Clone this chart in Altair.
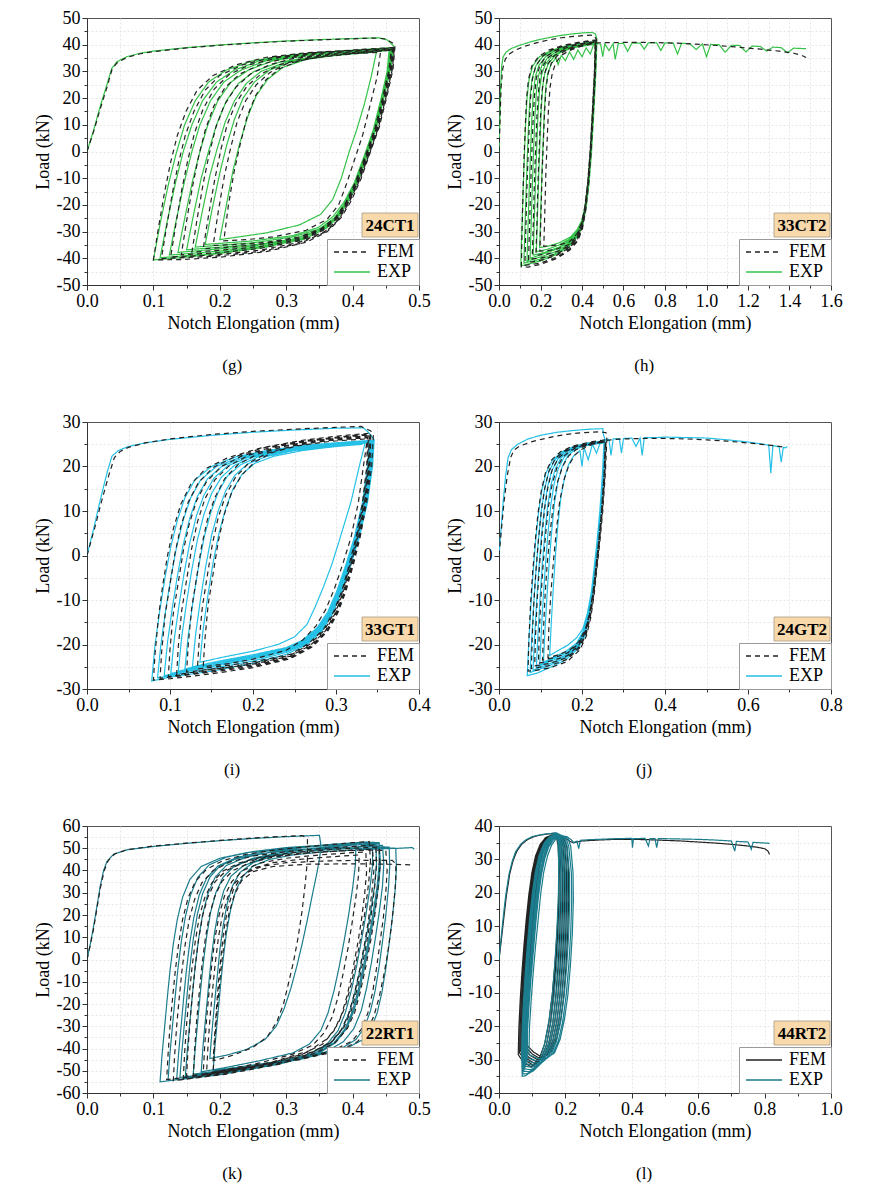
import altair as alt
import pandas as pd

FONT = "Liberation Serif"

# ---------------- data (Notch elongation mm, Load kN) ----------------
G_EXP = [
(0,0),(0.01,8),(0.02,17),(0.03,25),(0.037,31),(0.045,33.6),(0.06,35.5),(0.08,36.8),(0.1,37.6),(0.15,38.9),(0.2,39.9),(0.25,40.7),(0.3,41.4),(0.35,41.9),(0.4,42.3),(0.44,42.6),(0.452,41.8),(0.462,39.5),
(0.458,32),(0.449,22),(0.437,10),(0.424,0),(0.41,-10),(0.395,-18),(0.38,-24),(0.362,-28.5),(0.33,-32.5),(0.27,-35.8),(0.2,-38.2),(0.14,-39.8),(0.1,-40.6),
(0.111,-26),(0.122,-13),(0.134,-1),(0.147,10),(0.163,19),(0.183,26),(0.21,30.5),(0.25,34),(0.31,36.3),(0.38,37.6),(0.46,38.9),
(0.457,31),(0.448,21),(0.436,9),(0.422,-1),(0.407,-11),(0.392,-19),(0.377,-25),(0.358,-29),(0.325,-33),(0.26,-36),(0.19,-38.2),(0.11,-39.8),
(0.121,-26),(0.133,-12),(0.145,0),(0.158,10),(0.174,19),(0.195,26),(0.222,30.5),(0.26,34),(0.32,36.3),(0.39,37.6),(0.459,38.7),
(0.456,31),(0.447,21),(0.435,9),(0.421,-1),(0.406,-11),(0.391,-19),(0.376,-24.5),(0.356,-28.8),(0.32,-32.8),(0.26,-35.6),(0.2,-37.3),(0.124,-38.8),
(0.135,-25),(0.147,-11),(0.158,0),(0.17,10),(0.186,19),(0.206,26),(0.232,30.5),(0.27,34),(0.33,36.2),(0.4,37.5),(0.458,38.5),
(0.455,30),(0.446,20),(0.434,8),(0.42,-2),(0.405,-12),(0.39,-19.5),(0.374,-25),(0.35,-29.5),(0.31,-33),(0.25,-35.4),(0.137,-37.8),
(0.148,-24),(0.159,-11),(0.17,0),(0.182,10),(0.197,19),(0.217,26),(0.243,30.5),(0.28,34),(0.34,36.2),(0.4,37.3),(0.457,38.3),
(0.454,30),(0.445,20),(0.433,8),(0.419,-2),(0.404,-12),(0.389,-19.5),(0.373,-25),(0.35,-29.5),(0.31,-32.8),(0.26,-34.7),(0.15,-36.8),
(0.161,-23),(0.172,-10),(0.183,0),(0.195,10),(0.21,19),(0.228,25.5),(0.252,30),(0.29,33.5),(0.35,35.8),(0.41,37),(0.456,38.1),
(0.453,30),(0.444,20),(0.432,8),(0.418,-2),(0.403,-12),(0.388,-19.5),(0.372,-25),(0.35,-29),(0.31,-32),(0.25,-34.2),(0.163,-35.8),
(0.174,-22),(0.185,-9),(0.196,1),(0.208,11),(0.222,19),(0.24,25.5),(0.262,30),(0.3,33.5),(0.36,35.8),(0.42,36.9),(0.455,37.9),
(0.452,30),(0.443,20),(0.431,8),(0.417,-2),(0.402,-12),(0.387,-19),(0.37,-24.5),(0.348,-28.5),(0.31,-31.5),(0.25,-33.5),(0.178,-34.8),
(0.189,-21),(0.2,-8),(0.21,2),(0.222,12),(0.235,20),(0.252,26),(0.275,30.5),(0.31,33.8),(0.36,35.6),(0.41,36.8),(0.436,37.4),
(0.428,28),(0.418,18),(0.406,8),(0.395,0),(0.383,-10),(0.37,-18),(0.352,-23.5),(0.32,-27.5),(0.27,-30.5),(0.2,-33),
(0.21,-20),(0.22,-7),(0.23,3),(0.242,13),(0.255,21),(0.272,27),(0.295,31.5),(0.33,34.5),(0.39,36.5),(0.45,37.8),
]
G_FEM = [
(0,0),(0.01,7.5),(0.02,16),(0.03,24),(0.038,31),(0.046,33.4),(0.06,35.2),(0.08,36.6),(0.1,37.4),(0.15,38.8),(0.2,39.8),(0.25,40.6),(0.3,41.3),(0.35,41.8),(0.4,42.2),(0.43,42.5),(0.45,42.2),(0.464,40),
(0.461,31),(0.452,21),(0.44,9),(0.427,0),(0.413,-10),(0.398,-18.5),(0.382,-25),(0.362,-30),(0.33,-34),(0.27,-37.5),(0.2,-39.6),(0.14,-40.5),(0.1,-40.6),
(0.108,-28),(0.117,-15),(0.126,-4),(0.136,6),(0.149,15),(0.166,23),(0.19,28.5),(0.225,32.5),(0.27,35.3),(0.33,37),(0.4,38),(0.463,39),
(0.46,31),(0.451,21),(0.439,9),(0.425,-1),(0.41,-11),(0.395,-19),(0.379,-25.5),(0.36,-30),(0.32,-34.5),(0.26,-37.5),(0.19,-39.3),(0.112,-40.1),
(0.12,-28),(0.129,-15),(0.138,-4),(0.148,6),(0.161,15),(0.178,23),(0.2,28.5),(0.235,32.5),(0.28,35.3),(0.34,37),(0.41,38),(0.462,38.8),
(0.459,31),(0.45,21),(0.438,9),(0.424,-1),(0.409,-11),(0.394,-19),(0.378,-25.5),(0.358,-30),(0.32,-34),(0.26,-37),(0.19,-38.8),(0.126,-39.5),
(0.134,-27),(0.143,-14),(0.152,-3),(0.162,7),(0.175,16),(0.192,23.5),(0.214,28.8),(0.245,32.5),(0.29,35.2),(0.35,36.9),(0.42,37.9),(0.461,38.6),
(0.458,31),(0.449,21),(0.437,9),(0.423,-1),(0.408,-11),(0.393,-19),(0.377,-25),(0.356,-29.5),(0.32,-33.5),(0.26,-36.3),(0.2,-37.9),(0.142,-38.7),
(0.15,-26),(0.159,-13),(0.168,-2),(0.178,8),(0.191,17),(0.208,24),(0.23,29),(0.26,32.5),(0.3,35),(0.36,36.7),(0.42,37.7),(0.46,38.4),
(0.457,31),(0.448,21),(0.436,9),(0.422,-1),(0.407,-11),(0.392,-19),(0.376,-25),(0.355,-29.3),(0.32,-33),(0.26,-35.6),(0.2,-37),(0.158,-37.7),
(0.166,-25),(0.175,-12),(0.184,-1),(0.194,9),(0.207,17.5),(0.224,24),(0.246,29),(0.275,32.5),(0.31,34.8),(0.37,36.5),(0.43,37.6),(0.459,38.2),
(0.456,31),(0.447,21),(0.435,9),(0.421,-1),(0.406,-11),(0.391,-19),(0.375,-25),(0.354,-29),(0.32,-32.5),(0.26,-34.8),(0.21,-35.9),(0.175,-36.4),
(0.183,-24),(0.192,-11),(0.201,0),(0.211,10),(0.224,18),(0.241,24.5),(0.262,29),(0.29,32.5),(0.325,34.8),(0.38,36.4),(0.43,37.3),(0.458,38),
(0.455,31),(0.446,21),(0.434,9),(0.42,-1),(0.405,-11),(0.39,-19),(0.374,-24.8),(0.353,-28.8),(0.32,-32),(0.27,-34),(0.22,-34.9),(0.19,-35.2),
(0.198,-22),(0.207,-9),(0.216,1),(0.226,11),(0.239,19),(0.255,25),(0.275,29.5),(0.3,32.8),(0.34,35),(0.4,36.6),(0.442,37.2),
(0.437,28),(0.427,18),(0.415,6),(0.403,-3),(0.391,-12),(0.379,-20),(0.361,-25.5),(0.33,-29.5),(0.28,-32),(0.24,-33),(0.206,-33.5),
(0.213,-20),(0.222,-7),(0.231,3),(0.241,13),(0.254,21),(0.27,27),(0.29,31),(0.32,34),(0.37,36.2),(0.43,37.5),(0.457,37.9),
]

H_EXP = [
(0,0),(0.004,12),(0.008,24),(0.013,32),(0.02,35.5),(0.035,37.3),(0.06,38.6),(0.1,39.8),(0.15,41),(0.2,42),(0.25,42.8),(0.3,43.5),(0.35,44),(0.4,44.4),(0.45,44.6),(0.465,44),(0.472,42),
(0.467,30),(0.457,15),(0.446,0),(0.434,-12),(0.42,-21),(0.404,-27.5),(0.382,-31.5),(0.345,-35),(0.28,-38.5),(0.2,-41),(0.14,-42.2),(0.105,-42.8),
(0.11,-30),(0.116,-15),(0.122,-2),(0.128,10),(0.135,20),(0.145,27),(0.162,32),(0.195,35.5),(0.25,37.8),(0.32,39.5),(0.4,40.5),(0.47,41.3),
(0.466,30),(0.456,15),(0.445,0),(0.433,-12),(0.419,-21),(0.403,-27),(0.38,-31),(0.345,-34.5),(0.28,-38),(0.2,-40.3),(0.12,-41.8),
(0.125,-29),(0.131,-14),(0.137,-1),(0.143,11),(0.15,21),(0.16,27.5),(0.177,32),(0.21,35.5),(0.26,37.8),(0.33,39.4),(0.41,40.4),(0.469,41.1),
(0.465,30),(0.455,15),(0.444,0),(0.432,-12),(0.418,-21),(0.402,-27),(0.38,-30.8),(0.345,-34),(0.28,-37.3),(0.2,-39.5),(0.135,-41),
(0.14,-28),(0.146,-13),(0.152,0),(0.158,12),(0.165,21.5),(0.175,28),(0.192,32.2),(0.225,35.5),(0.27,37.7),(0.34,39.3),(0.42,40.3),(0.468,40.9),
(0.464,30),(0.454,15),(0.443,0),(0.431,-12),(0.417,-21),(0.401,-26.8),(0.38,-30.5),(0.345,-33.5),(0.28,-36.5),(0.2,-38.7),(0.15,-40),
(0.155,-27),(0.161,-12),(0.167,1),(0.173,13),(0.18,22),(0.19,28.3),(0.207,32.3),(0.238,35.4),(0.28,37.5),(0.35,39.2),(0.43,40.2),(0.467,40.7),
(0.463,30),(0.453,15),(0.442,0),(0.43,-12),(0.416,-21),(0.4,-26.5),(0.38,-30),(0.345,-33),(0.29,-35.8),(0.22,-37.8),(0.165,-38.8),
(0.17,-26),(0.176,-11),(0.182,2),(0.188,14),(0.195,23),(0.205,28.7),(0.222,32.5),(0.252,35.4),(0.295,37.5),(0.36,39.1),(0.43,40),(0.466,40.5),
(0.462,30),(0.452,15),(0.441,0),(0.429,-12),(0.415,-21),(0.399,-26.3),(0.378,-29.6),(0.345,-32.5),(0.29,-35),(0.23,-36.7),(0.18,-37.5),
(0.185,-25),(0.191,-10),(0.197,3),(0.203,15),(0.21,24),(0.22,29),(0.237,32.8),(0.265,35.4),(0.3,37.3),(0.36,38.9),(0.43,39.8),(0.465,40.3),
(0.461,30),(0.451,15),(0.44,0),(0.428,-12),(0.414,-21),(0.398,-26),(0.377,-29.2),(0.345,-32),(0.29,-34.2),(0.24,-35.4),(0.196,-36),
(0.201,-23),(0.207,-8),(0.213,4),(0.219,16),(0.226,24.5),(0.236,29.5),(0.253,33),(0.275,35),(0.285,32.5),(0.3,36),(0.32,34),(0.34,37.3),(0.36,34.5),(0.38,38),(0.4,35.5),(0.42,38.8),(0.44,36.5),(0.455,39.8),(0.47,40.5),
(0.49,40.2),(0.5,35.5),(0.51,40.3),(0.53,37.8),(0.55,40.4),(0.56,34.5),(0.575,40.4),(0.6,40.5),(0.62,37.5),(0.64,40.6),(0.68,40.6),(0.7,38.3),(0.72,40.7),(0.76,40.7),(0.78,37.8),(0.8,40.7),(0.84,40.6),(0.86,36.5),(0.88,40.5),(0.92,40.4),(0.95,38.2),(0.98,40.3),(1.0,35.5),(1.02,40.1),(1.06,40),(1.09,37.2),(1.12,39.8),(1.16,39.7),(1.19,37.3),(1.22,39.5),(1.26,39.3),(1.29,37.6),(1.32,39.1),(1.36,38.9),(1.39,37),(1.42,38.7),(1.45,38.6),(1.48,38.5),
]
H_FEM = [
(0,0),(0.005,12),(0.01,24),(0.018,31),(0.03,34.5),(0.05,36.5),(0.08,38),(0.12,39.3),(0.18,40.7),(0.24,41.8),(0.3,42.6),(0.36,43.1),(0.42,43.5),(0.455,43.6),(0.47,42),
(0.465,30),(0.455,15),(0.444,0),(0.432,-12),(0.418,-22),(0.402,-29),(0.38,-33.5),(0.34,-37),(0.28,-40),(0.2,-42.3),(0.14,-43.3),(0.108,-43.2),
(0.111,-30),(0.116,-15),(0.121,-2),(0.127,10),(0.133,20),(0.142,27),(0.158,32),(0.19,35.5),(0.24,38),(0.31,39.8),(0.39,41),(0.468,41.8),
(0.464,30),(0.454,15),(0.443,0),(0.431,-12),(0.417,-22),(0.401,-28.5),(0.38,-33),(0.34,-36.5),(0.28,-39.5),(0.2,-41.8),(0.125,-42.6),
(0.129,-30),(0.134,-15),(0.14,-2),(0.146,10),(0.152,20),(0.161,27),(0.177,32),(0.207,35.5),(0.255,38),(0.32,39.7),(0.4,40.8),(0.467,41.5),
(0.463,30),(0.453,15),(0.442,0),(0.43,-12),(0.416,-22),(0.4,-28.5),(0.378,-32.8),(0.34,-36),(0.28,-38.8),(0.2,-40.8),(0.142,-41.5),
(0.147,-29),(0.152,-14),(0.158,-1),(0.164,11),(0.171,21),(0.18,27.5),(0.196,32),(0.225,35.5),(0.27,37.8),(0.33,39.5),(0.41,40.6),(0.466,41.2),
(0.462,30),(0.452,15),(0.441,0),(0.429,-12),(0.415,-22),(0.399,-28.3),(0.378,-32.3),(0.34,-35.8),(0.28,-38.3),(0.2,-39.9),(0.16,-40.2),
(0.165,-28),(0.17,-13),(0.176,0),(0.182,12),(0.189,21.5),(0.198,28),(0.214,32.3),(0.242,35.5),(0.285,37.7),(0.345,39.4),(0.42,40.4),(0.465,41),
(0.461,30),(0.451,15),(0.44,0),(0.428,-12),(0.414,-22),(0.398,-28),(0.377,-32),(0.34,-35.3),(0.28,-37.5),(0.22,-38.6),(0.178,-38.8),
(0.183,-26),(0.188,-11),(0.194,1),(0.2,13),(0.207,22),(0.217,28.5),(0.233,32.5),(0.26,35.5),(0.3,37.6),(0.36,39.3),(0.43,40.3),(0.464,40.8),
(0.46,30),(0.45,15),(0.439,0),(0.427,-12),(0.413,-21.5),(0.397,-27.6),(0.376,-31.5),(0.34,-34.8),(0.28,-36.5),(0.23,-37.2),(0.197,-37.3),
(0.202,-24),(0.207,-10),(0.213,2),(0.219,14),(0.226,23),(0.236,29),(0.252,33),(0.28,35.8),(0.32,37.7),(0.375,39.2),(0.44,40.3),(0.463,40.6),
(0.46,30),(0.45,15),(0.439,0),(0.427,-12),(0.413,-21),(0.397,-27),(0.376,-30.8),(0.34,-33.8),(0.29,-35),(0.216,-35.5),
(0.221,-22),(0.226,-8),(0.232,4),(0.238,15),(0.246,24),(0.257,29.5),(0.274,33.3),(0.3,36),(0.34,37.8),(0.39,39.3),(0.44,40.2),(0.47,40.7),
(0.55,40.8),(0.65,40.9),(0.75,40.8),(0.85,40.6),(0.95,40.2),(1.05,39.7),(1.15,39.1),(1.25,38.4),(1.35,37.6),(1.42,36.8),(1.46,36),(1.48,35.2),
]

I_EXP = [
(0,0),(0.008,6),(0.016,12.5),(0.024,18.5),(0.03,22.3),(0.038,23.6),(0.05,24.5),(0.07,25.3),(0.1,26.1),(0.15,27),(0.2,27.7),(0.25,28.2),(0.3,28.6),(0.333,28.7),(0.34,27.5),(0.346,26),
(0.344,20),(0.338,12),(0.328,4),(0.318,-2),(0.307,-8),(0.296,-13),(0.283,-17),(0.265,-20),(0.24,-22.2),(0.2,-24.2),(0.15,-26),(0.1,-27.3),(0.078,-28.2),
(0.082,-20),(0.088,-12),(0.094,-5),(0.101,2),(0.109,8),(0.118,13),(0.13,17),(0.15,20),(0.18,22.2),(0.22,23.7),(0.27,24.9),(0.32,25.6),(0.345,25.9),
(0.343,20),(0.337,12),(0.327,4),(0.317,-2),(0.306,-8),(0.295,-13),(0.282,-17),(0.264,-19.8),(0.24,-21.8),(0.2,-23.7),(0.15,-25.4),(0.085,-27.5),
(0.089,-20),(0.095,-12),(0.101,-5),(0.108,2),(0.116,8),(0.125,13),(0.137,17),(0.156,20),(0.185,22.1),(0.225,23.6),(0.275,24.8),(0.32,25.5),(0.344,25.8),
(0.342,20),(0.336,12),(0.326,4),(0.316,-2),(0.305,-8),(0.294,-13),(0.281,-16.8),(0.263,-19.6),(0.24,-21.5),(0.2,-23.3),(0.15,-25),(0.093,-27),
(0.097,-19.5),(0.103,-11.5),(0.109,-4.5),(0.116,2.5),(0.124,8.5),(0.133,13.3),(0.145,17.2),(0.163,20.1),(0.19,22.1),(0.23,23.6),(0.28,24.7),(0.343,25.7),
(0.341,20),(0.335,12),(0.325,4),(0.315,-2),(0.304,-8),(0.293,-13),(0.28,-16.7),(0.262,-19.5),(0.24,-21.3),(0.2,-23),(0.15,-24.7),(0.101,-26.5),
(0.105,-19),(0.111,-11),(0.117,-4),(0.124,3),(0.132,9),(0.141,13.6),(0.153,17.4),(0.17,20.2),(0.195,22.1),(0.235,23.6),(0.285,24.7),(0.342,25.6),
(0.34,20),(0.334,12),(0.324,4),(0.314,-2),(0.303,-8),(0.292,-12.9),(0.279,-16.6),(0.261,-19.4),(0.24,-21.1),(0.2,-22.8),(0.15,-24.4),(0.11,-26),
(0.114,-18.5),(0.12,-10.5),(0.126,-3.5),(0.133,3.5),(0.141,9.3),(0.15,13.9),(0.162,17.6),(0.178,20.3),(0.2,22.1),(0.24,23.6),(0.29,24.7),(0.341,25.5),
(0.339,20),(0.333,12),(0.323,4),(0.313,-2),(0.302,-8),(0.291,-12.8),(0.278,-16.5),(0.26,-19.3),(0.24,-20.9),(0.2,-22.6),(0.15,-24.1),(0.118,-25.5),
(0.122,-18),(0.128,-10),(0.134,-3),(0.141,4),(0.149,9.6),(0.158,14.2),(0.169,17.8),(0.185,20.4),(0.207,22.2),(0.245,23.6),(0.295,24.7),(0.34,25.4),
(0.338,20),(0.332,12),(0.322,4),(0.312,-2),(0.301,-8),(0.29,-12.7),(0.277,-16.3),(0.259,-19.1),(0.24,-20.7),(0.2,-22.3),(0.16,-23.7),(0.127,-25),
(0.131,-17.5),(0.137,-9.5),(0.143,-2.5),(0.15,4.5),(0.158,10),(0.167,14.5),(0.178,18),(0.193,20.5),(0.215,22.2),(0.25,23.6),(0.3,24.6),(0.335,25.2),
(0.328,20),(0.318,12),(0.305,4),(0.295,-2),(0.285,-7),(0.275,-11.5),(0.265,-15.5),(0.25,-18.3),(0.23,-20),(0.2,-21.5),(0.165,-22.8),(0.136,-24),
(0.14,-16.5),(0.146,-8.5),(0.152,-1.5),(0.159,5),(0.167,10.5),(0.176,15),(0.187,18.3),(0.202,20.7),(0.225,22.3),(0.26,23.6),(0.3,24.5),(0.332,25),
]
I_FEM = [
(0,0),(0.009,6),(0.018,12.5),(0.027,18.5),(0.033,22),(0.04,23.4),(0.05,24.3),(0.07,25.3),(0.1,26.2),(0.15,27.2),(0.2,27.9),(0.25,28.4),(0.3,28.8),(0.33,29),(0.342,28),(0.345,27),
(0.343,20),(0.337,12),(0.329,4),(0.321,-2),(0.312,-8),(0.302,-13),(0.29,-17),(0.272,-20.5),(0.245,-23.2),(0.2,-25.2),(0.15,-26.6),(0.1,-27.7),(0.08,-28),
(0.082,-22),(0.086,-14),(0.091,-7),(0.097,0),(0.104,6),(0.113,11.5),(0.125,16),(0.143,19.5),(0.17,22),(0.21,24.2),(0.26,25.9),(0.31,27),(0.342,27.5),
(0.341,20),(0.336,12),(0.328,4),(0.32,-2),(0.311,-8),(0.301,-13),(0.289,-17),(0.271,-20.4),(0.245,-23),(0.2,-24.9),(0.15,-26.2),(0.088,-27.6),
(0.09,-21.5),(0.094,-13.5),(0.1,-6.5),(0.106,0.5),(0.113,6.5),(0.122,12),(0.134,16.3),(0.152,19.8),(0.178,22.2),(0.215,24.3),(0.265,25.9),(0.315,26.9),(0.341,27.3),
(0.34,20),(0.335,12),(0.327,4),(0.319,-2),(0.31,-8),(0.3,-13),(0.288,-17),(0.27,-20.3),(0.245,-22.8),(0.2,-24.6),(0.15,-25.9),(0.098,-27.2),
(0.1,-21),(0.104,-13),(0.11,-6),(0.116,1),(0.123,7),(0.132,12.3),(0.144,16.6),(0.162,20),(0.187,22.4),(0.222,24.3),(0.27,25.8),(0.318,26.8),(0.34,27.1),
(0.339,20),(0.334,12),(0.326,4),(0.318,-2),(0.309,-8),(0.299,-13),(0.287,-17),(0.269,-20.2),(0.245,-22.6),(0.2,-24.4),(0.15,-25.6),(0.108,-26.8),
(0.11,-20.5),(0.114,-12.5),(0.12,-5.5),(0.126,1.5),(0.133,7.5),(0.142,12.7),(0.154,17),(0.172,20.3),(0.196,22.6),(0.23,24.4),(0.275,25.8),(0.32,26.7),(0.339,26.9),
(0.338,20),(0.333,12),(0.325,4),(0.317,-2),(0.308,-8),(0.298,-12.8),(0.286,-16.8),(0.268,-20),(0.245,-22.4),(0.2,-24.2),(0.16,-25.3),(0.12,-26.2),
(0.122,-20),(0.126,-12),(0.132,-5),(0.138,2),(0.145,8),(0.154,13),(0.166,17.3),(0.183,20.6),(0.206,22.8),(0.238,24.5),(0.28,25.8),(0.322,26.5),(0.338,26.7),
(0.337,20),(0.332,12),(0.324,4),(0.316,-2),(0.307,-8),(0.297,-12.7),(0.285,-16.6),(0.267,-19.8),(0.245,-22.2),(0.2,-23.9),(0.165,-24.8),(0.133,-25.5),
(0.135,-19.5),(0.139,-11.5),(0.145,-4.5),(0.151,2.5),(0.158,8.5),(0.167,13.5),(0.179,17.6),(0.195,20.8),(0.217,23),(0.248,24.6),(0.29,25.8),(0.338,26.5),
(0.333,20),(0.327,12),(0.318,4),(0.308,-2),(0.298,-7.5),(0.288,-12),(0.276,-15.8),(0.26,-19),(0.24,-21.3),(0.2,-23.3),(0.17,-24.3),(0.14,-25),
(0.142,-19),(0.146,-11),(0.152,-4),(0.158,3),(0.165,9),(0.174,14),(0.186,18),(0.202,21),(0.224,23.2),(0.255,24.7),(0.295,25.7),(0.336,26.2),
]

J_EXP = [
(0,0),(0.005,6),(0.01,12),(0.016,18),(0.022,22),(0.03,23.8),(0.045,25),(0.07,26.2),(0.1,27),(0.14,27.7),(0.18,28.1),(0.22,28.4),(0.25,28.5),(0.252,27),(0.256,26),
(0.252,18),(0.246,10),(0.239,3),(0.232,-3),(0.225,-9),(0.217,-14),(0.207,-18),(0.19,-21),(0.16,-23.5),(0.12,-25.3),(0.09,-26.5),(0.068,-27),
(0.072,-19),(0.077,-11),(0.082,-4),(0.088,3),(0.095,9.5),(0.103,14.5),(0.113,18.5),(0.128,21.3),(0.15,23.2),(0.18,24.5),(0.22,25.4),(0.255,25.8),
(0.252,18),(0.246,10),(0.239,3),(0.232,-3),(0.225,-9),(0.217,-14),(0.206,-17.8),(0.19,-20.6),(0.16,-23),(0.12,-24.8),(0.075,-26.3),
(0.079,-18.5),(0.084,-10.5),(0.089,-3.5),(0.095,3.5),(0.102,10),(0.11,15),(0.12,18.8),(0.135,21.5),(0.156,23.3),(0.185,24.5),(0.225,25.3),(0.255,25.7),
(0.251,18),(0.245,10),(0.238,3),(0.231,-3),(0.224,-9),(0.216,-13.8),(0.205,-17.6),(0.189,-20.4),(0.16,-22.7),(0.12,-24.4),(0.082,-25.8),
(0.086,-18),(0.091,-10),(0.096,-3),(0.102,4),(0.109,10.5),(0.117,15.4),(0.127,19),(0.142,21.7),(0.162,23.4),(0.19,24.5),(0.23,25.3),(0.254,25.6),
(0.25,18),(0.244,10),(0.237,3),(0.23,-3),(0.223,-9),(0.215,-13.7),(0.204,-17.4),(0.188,-20.2),(0.16,-22.4),(0.12,-23.9),(0.09,-25.2),
(0.094,-17.5),(0.099,-9.5),(0.104,-2.5),(0.11,4.5),(0.117,11),(0.125,15.8),(0.135,19.3),(0.149,21.9),(0.168,23.5),(0.195,24.6),(0.23,25.2),(0.254,25.5),
(0.25,18),(0.244,10),(0.237,3),(0.23,-3),(0.223,-8.8),(0.215,-13.5),(0.204,-17.2),(0.188,-20),(0.16,-22),(0.125,-23.4),(0.098,-24.6),
(0.102,-17),(0.107,-9),(0.112,-2),(0.118,5),(0.125,11.5),(0.133,16.2),(0.143,19.6),(0.157,22.1),(0.175,23.6),(0.2,24.6),(0.232,25.2),(0.253,25.4),
(0.249,18),(0.243,10),(0.236,3),(0.229,-3),(0.222,-8.7),(0.214,-13.3),(0.203,-17),(0.187,-19.7),(0.16,-21.6),(0.13,-22.9),(0.107,-24),
(0.111,-16.5),(0.116,-8.5),(0.121,-1.5),(0.127,5.5),(0.134,12),(0.142,16.6),(0.152,19.9),(0.165,22.3),(0.182,23.7),(0.205,24.6),(0.235,25.1),(0.253,25.3),
(0.25,18),(0.244,10),(0.237,3),(0.23,-3),(0.222,-8.5),(0.213,-13),(0.202,-16.5),(0.187,-18.5),(0.165,-20.2),(0.14,-21.5),(0.122,-22.5),
(0.126,-15),(0.131,-7),(0.136,0),(0.142,7),(0.149,13),(0.158,17.5),(0.168,20.5),(0.18,22.4),(0.195,23.6),(0.2,20),(0.205,24.2),(0.215,21.5),(0.225,25),(0.235,23),(0.245,25.6),(0.255,26),
(0.265,26.1),(0.27,22.5),(0.275,26.2),(0.29,26.3),(0.295,23),(0.3,26.3),(0.32,26.4),(0.33,24.5),(0.34,26.4),(0.345,22.5),(0.35,26.5),(0.38,26.5),(0.4,26.6),(0.45,26.5),(0.5,26.4),(0.55,26),(0.6,25.5),(0.63,25.1),(0.65,24.8),(0.655,18.5),(0.66,24.7),(0.675,24.4),(0.68,21),(0.685,24.3),(0.69,24.2),(0.695,24.5),
]
J_FEM = [
(0,0),(0.006,6),(0.012,12),(0.02,18),(0.028,22),(0.036,23.7),(0.05,24.6),(0.08,25.6),(0.12,26.5),(0.16,27.2),(0.2,27.6),(0.24,27.8),(0.258,27.6),(0.26,26.5),
(0.256,18),(0.25,10),(0.243,3),(0.236,-3),(0.229,-9),(0.221,-14),(0.211,-18),(0.195,-21.2),(0.165,-23.8),(0.125,-25.2),(0.09,-25.8),(0.07,-26),
(0.072,-19),(0.076,-11),(0.081,-4),(0.087,3),(0.094,9.5),(0.102,14.6),(0.112,18.6),(0.127,21.5),(0.148,23.3),(0.178,24.6),(0.22,25.5),(0.258,26),
(0.255,18),(0.249,10),(0.242,3),(0.235,-3),(0.228,-9),(0.22,-13.8),(0.21,-17.7),(0.194,-20.8),(0.165,-23.3),(0.125,-24.7),(0.078,-25.4),
(0.08,-18.5),(0.084,-10.5),(0.089,-3.5),(0.095,3.5),(0.102,10),(0.11,15),(0.12,18.9),(0.135,21.7),(0.155,23.4),(0.185,24.6),(0.225,25.4),(0.257,25.8),
(0.254,18),(0.248,10),(0.241,3),(0.234,-3),(0.227,-9),(0.219,-13.7),(0.209,-17.5),(0.193,-20.5),(0.165,-22.9),(0.125,-24.2),(0.086,-24.8),
(0.088,-18),(0.092,-10),(0.097,-3),(0.103,4),(0.11,10.5),(0.118,15.4),(0.128,19.2),(0.143,21.9),(0.163,23.5),(0.19,24.6),(0.23,25.3),(0.256,25.6),
(0.253,18),(0.247,10),(0.24,3),(0.233,-3),(0.226,-8.8),(0.218,-13.5),(0.208,-17.3),(0.192,-20.2),(0.165,-22.5),(0.13,-23.6),(0.095,-24.2),
(0.097,-17.5),(0.101,-9.5),(0.106,-2.5),(0.112,4.5),(0.119,11),(0.128,15.9),(0.139,19.6),(0.154,22.1),(0.172,23.6),(0.198,24.6),(0.235,25.3),(0.256,25.5),
(0.253,18),(0.247,10),(0.24,3),(0.233,-3),(0.226,-8.7),(0.218,-13.3),(0.208,-17),(0.192,-19.8),(0.165,-21.9),(0.135,-22.9),(0.105,-23.5),
(0.107,-17),(0.111,-9),(0.116,-2),(0.123,5),(0.131,11.5),(0.141,16.5),(0.153,20),(0.168,22.4),(0.186,23.8),(0.21,24.7),(0.24,25.3),(0.256,25.5),
(0.253,18),(0.247,10),(0.24,3),(0.233,-3),(0.226,-8.5),(0.218,-13),(0.208,-16.6),(0.192,-19.4),(0.17,-21.3),(0.14,-22.4),(0.118,-23),
(0.12,-16.5),(0.125,-8.5),(0.131,-1.5),(0.138,5.5),(0.146,12),(0.156,16.8),(0.168,20.2),(0.182,22.5),(0.2,23.9),(0.225,25),(0.25,25.7),(0.27,26),
(0.3,26.2),(0.35,26.3),(0.4,26.3),(0.45,26.2),(0.5,26),(0.55,25.7),(0.6,25.3),(0.64,24.9),(0.67,24.6),(0.69,24.3),
]

K_EXP = [
(0,0),(0.005,7),(0.01,15),(0.015,24),(0.02,33),(0.025,40),(0.03,44),(0.04,47.3),(0.06,49.3),(0.1,50.8),(0.15,52.2),(0.2,53.4),(0.25,54.4),(0.3,55.2),(0.35,55.8),(0.352,52),(0.351,47),
(0.347,40),(0.34,30),(0.332,18),(0.324,7),(0.316,-3),(0.307,-13),(0.297,-22),(0.285,-30),(0.268,-36),(0.24,-40.5),(0.21,-43),(0.185,-44.5),
(0.188,-33),(0.192,-20),(0.196,-8),(0.2,4),(0.205,15),(0.211,25),(0.219,33),(0.23,39),(0.25,43.5),(0.28,46.5),(0.32,48.5),(0.37,49.8),(0.4,50.5),(0.405,50.8),
(0.404,42),(0.4,32),(0.394,20),(0.387,8),(0.38,-3),(0.372,-14),(0.363,-24),(0.352,-32),(0.335,-38),(0.31,-42),(0.26,-45.5),(0.21,-48.5),(0.172,-50.5),
(0.175,-38),(0.179,-25),(0.183,-12),(0.187,0),(0.192,12),(0.198,22),(0.206,31),(0.217,37.5),(0.235,42),(0.265,45.5),(0.3,47.8),(0.35,49.5),(0.4,50.5),(0.43,51.2),
(0.43,42),(0.426,32),(0.42,20),(0.413,8),(0.406,-3),(0.398,-14),(0.389,-24),(0.378,-32),(0.36,-38.5),(0.33,-43),(0.28,-46.5),(0.21,-50),(0.16,-52),
(0.163,-40),(0.167,-27),(0.171,-14),(0.175,-2),(0.18,10),(0.186,21),(0.194,30),(0.205,37),(0.222,42),(0.25,45.5),(0.29,48),(0.34,50),(0.39,51.2),(0.435,52),
(0.436,43),(0.433,33),(0.427,21),(0.42,9),(0.413,-2),(0.405,-13),(0.396,-23),(0.385,-31),(0.368,-37.5),(0.34,-42.5),(0.28,-46.8),(0.2,-50.8),(0.148,-53),
(0.151,-41),(0.155,-28),(0.159,-15),(0.163,-3),(0.168,9),(0.174,20),(0.182,29.5),(0.193,37),(0.21,42.3),(0.24,46),(0.28,48.5),(0.33,50.5),(0.38,51.7),(0.43,52.5),(0.44,52.2),
(0.44,43),(0.437,33),(0.431,21),(0.424,9),(0.417,-2),(0.409,-13),(0.4,-23),(0.389,-31),(0.372,-37.5),(0.345,-42.5),(0.29,-47),(0.2,-51.5),(0.135,-54),
(0.138,-42),(0.142,-29),(0.146,-16),(0.15,-4),(0.155,8),(0.161,19),(0.169,29),(0.18,36.5),(0.197,42),(0.225,45.8),(0.265,48.5),(0.32,50.5),(0.37,51.8),(0.42,52.8),(0.44,52.5),
(0.442,43),(0.439,33),(0.433,21),(0.426,9),(0.419,-2),(0.411,-13),(0.402,-23),(0.391,-31),(0.374,-37.5),(0.35,-42),(0.29,-47),(0.2,-51.8),(0.122,-54.5),
(0.125,-42),(0.129,-29),(0.133,-16),(0.137,-4),(0.142,8),(0.148,19),(0.156,29),(0.167,37),(0.184,42.5),(0.21,46),(0.25,48.5),(0.3,50.3),(0.36,51.5),(0.41,52.3),(0.44,52),
(0.442,43),(0.439,33),(0.433,21),(0.426,9),(0.419,-2),(0.411,-13),(0.402,-23),(0.391,-31),(0.374,-37.3),(0.35,-41.8),(0.29,-46.8),(0.2,-51.5),(0.11,-55),
(0.113,-43),(0.117,-30),(0.121,-17),(0.125,-5),(0.13,7),(0.136,18),(0.144,28),(0.155,36),(0.172,41.8),(0.2,45.5),(0.24,48),(0.29,49.8),(0.35,51),(0.41,51.6),(0.445,51.3),
(0.447,43),(0.445,33),(0.44,21),(0.434,9),(0.428,-2),(0.421,-13),(0.413,-23),(0.402,-31),(0.386,-37),(0.36,-41.5),(0.3,-46),(0.22,-50),(0.14,-53),
(0.143,-41),(0.147,-28),(0.151,-15),(0.155,-3),(0.16,9),(0.166,20),(0.174,29.5),(0.185,37),(0.2,42),(0.225,45.3),(0.26,47.5),(0.31,49.3),(0.37,50.3),(0.43,50.8),(0.455,50.5),
(0.456,42),(0.454,32),(0.45,20),(0.445,8),(0.44,-3),(0.434,-14),(0.427,-23),(0.418,-30.5),(0.405,-36),(0.38,-40.5),(0.32,-45),(0.24,-48.5),(0.16,-51.5),
(0.163,-40),(0.167,-27),(0.171,-14),(0.175,-2),(0.18,10),(0.186,21),(0.194,30),(0.205,37),(0.22,41.5),(0.245,44.7),(0.28,47),(0.33,48.7),(0.39,49.8),(0.44,50.2),(0.465,50),
(0.466,41),(0.464,31),(0.46,19),(0.455,7),(0.45,-4),(0.444,-15),(0.437,-24),(0.428,-31),(0.416,-36),(0.39,-40),(0.33,-44),(0.26,-47),(0.19,-50),
(0.193,-38),(0.197,-25),(0.201,-12),(0.205,0),(0.21,12),(0.216,22),(0.224,31),(0.235,37.5),(0.25,42),(0.275,45),(0.31,47),(0.36,48.5),(0.42,49.5),(0.47,50),(0.49,50.3),(0.493,49.5),
]
K_FEM = [
(0,0),(0.005,6.5),(0.01,14),(0.015,23),(0.02,32),(0.026,40),(0.032,44.5),(0.042,47.5),(0.06,49.3),(0.1,51),(0.15,52.3),(0.2,53.5),(0.25,54.6),(0.3,55.4),(0.325,55.7),(0.332,54),
(0.332,45),(0.329,35),(0.324,22),(0.318,10),(0.311,-1),(0.304,-10),(0.296,-20),(0.286,-28),(0.272,-34.5),(0.25,-39.5),(0.22,-43),(0.19,-45.5),
(0.192,-35),(0.195,-22),(0.198,-10),(0.202,2),(0.206,13),(0.212,23),(0.22,31),(0.232,37),(0.25,41),(0.28,43.5),(0.32,45),(0.36,46),(0.4,46.8),(0.41,47),
(0.409,38),(0.405,28),(0.399,16),(0.393,5),(0.386,-6),(0.378,-17),(0.369,-26),(0.357,-33),(0.34,-38.5),(0.31,-42.5),(0.26,-46.5),(0.2,-50),(0.175,-51.5),
(0.177,-40),(0.18,-27),(0.184,-14),(0.188,-2),(0.193,10),(0.199,20),(0.207,28.5),(0.218,35),(0.235,40),(0.26,43.3),(0.3,45.5),(0.35,47),(0.4,48),(0.42,48.3),
(0.421,39),(0.418,29),(0.413,17),(0.407,6),(0.4,-5),(0.392,-16),(0.383,-25),(0.372,-32),(0.355,-38),(0.325,-42.5),(0.27,-47),(0.21,-50.5),(0.16,-53),
(0.162,-41),(0.165,-28),(0.169,-15),(0.173,-3),(0.178,9),(0.184,19.5),(0.192,28),(0.203,35),(0.22,40),(0.245,43.5),(0.28,46),(0.33,47.8),(0.39,49),(0.43,49.5),
(0.432,40),(0.429,30),(0.424,18),(0.418,7),(0.411,-4),(0.403,-15),(0.394,-24.5),(0.383,-31.5),(0.366,-37.5),(0.335,-42.5),(0.28,-47.2),(0.2,-51.5),(0.145,-53.8),
(0.147,-42),(0.15,-29),(0.154,-16),(0.158,-4),(0.163,8),(0.169,19),(0.177,27.5),(0.188,34.5),(0.205,39.8),(0.23,43.5),(0.265,46.2),(0.31,48),(0.37,49.5),(0.42,50.3),(0.44,50.5),
(0.441,41),(0.438,31),(0.433,19),(0.427,8),(0.42,-3),(0.412,-14),(0.403,-24),(0.392,-31),(0.375,-37),(0.345,-42),(0.29,-47),(0.21,-51.5),(0.13,-54.5),
(0.132,-43),(0.135,-30),(0.139,-17),(0.143,-5),(0.148,7),(0.154,18),(0.162,27),(0.173,34.5),(0.19,40),(0.215,43.8),(0.25,46.5),(0.3,48.5),(0.36,50),(0.41,51),(0.435,51.5),
(0.436,42),(0.433,32),(0.428,20),(0.422,9),(0.415,-2),(0.407,-13),(0.398,-23),(0.387,-30.5),(0.37,-36.5),(0.34,-41.5),(0.28,-46.5),(0.2,-51),(0.12,-54),
(0.122,-43),(0.125,-30),(0.129,-17),(0.133,-5),(0.138,7),(0.144,18),(0.152,27.5),(0.163,35),(0.18,40.5),(0.205,44.5),(0.24,47.3),(0.29,49.5),(0.35,51.2),(0.4,52.5),(0.425,53),
(0.427,44),(0.424,34),(0.419,22),(0.413,11),(0.406,0),(0.398,-11),(0.389,-21),(0.378,-29),(0.362,-35.5),(0.335,-41),(0.28,-46),(0.2,-50.5),(0.15,-52.5),
(0.152,-41),(0.155,-28),(0.159,-15),(0.163,-3),(0.168,9),(0.174,19.5),(0.182,28),(0.193,35),(0.21,40),(0.235,43.5),(0.27,46),(0.32,47.8),(0.38,48.8),(0.43,49.2),(0.45,49),
(0.452,40),(0.45,30),(0.446,18),(0.441,7),(0.436,-4),(0.43,-15),(0.423,-24),(0.414,-31),(0.4,-36.5),(0.37,-41),(0.31,-45.5),(0.24,-49),(0.18,-51.5),
(0.182,-40),(0.185,-27),(0.189,-14),(0.193,-2),(0.198,10),(0.204,20),(0.212,28),(0.223,34.5),(0.24,39),(0.265,42),(0.3,43.5),(0.36,44.3),(0.42,44.6),(0.46,44.5),(0.465,43),
(0.465,35),(0.462,25),(0.458,14),(0.453,3),(0.447,-7),(0.44,-17),(0.432,-25.5),(0.422,-32),(0.407,-37),(0.38,-41),(0.32,-45),(0.25,-48),(0.19,-50.5),
(0.192,-39),(0.195,-26),(0.199,-13),(0.203,-1),(0.208,11),(0.214,21),(0.222,29),(0.233,35.5),(0.25,39.5),(0.28,41.8),(0.33,42.8),(0.4,43),(0.46,42.8),(0.49,42.5),
]

L_EXP = [
(0,0),(0.005,5),(0.012,12),(0.02,19),(0.03,25.5),(0.04,29.5),(0.05,32.3),(0.065,34.5),(0.08,35.8),(0.1,36.8),(0.12,37.3),(0.14,37.6),(0.16,37.8),(0.172,38),
(0.178,35),(0.18,28),(0.179,20),(0.175,10),(0.169,0),(0.161,-10),(0.151,-18),(0.138,-25),(0.122,-30.5),(0.1,-33.5),(0.08,-34.8),(0.07,-35),
(0.068,-28),(0.07,-20),(0.074,-12),(0.079,-4),(0.085,4),(0.092,12),(0.1,19.5),(0.109,26),(0.12,31),(0.134,34.5),(0.15,36.5),(0.165,37.5),(0.175,37.8),
(0.182,34),(0.185,26),(0.184,18),(0.18,8),(0.174,-2),(0.166,-11),(0.156,-19),(0.143,-25.5),(0.127,-30.5),(0.105,-33.3),(0.085,-34.2),(0.072,-34.3),
(0.071,-27),(0.073,-19),(0.077,-11),(0.082,-3),(0.088,5),(0.095,13),(0.103,20.5),(0.112,27),(0.123,31.8),(0.137,35),(0.152,36.8),(0.168,37.6),(0.178,37.7),
(0.186,34),(0.19,26),(0.189,18),(0.186,8),(0.18,-2),(0.172,-11),(0.162,-19),(0.149,-25.5),(0.133,-30),(0.11,-32.8),(0.09,-33.6),(0.075,-33.5),
(0.074,-26),(0.077,-18),(0.081,-10),(0.086,-2),(0.092,6),(0.099,14),(0.107,21.5),(0.116,27.5),(0.127,32.2),(0.141,35.3),(0.157,37),(0.172,37.6),(0.182,37.5),
(0.19,34),(0.195,26),(0.195,18),(0.192,8),(0.186,-2),(0.178,-11),(0.168,-19),(0.155,-25),(0.139,-29.5),(0.115,-32.3),(0.095,-33),(0.078,-32.8),
(0.077,-25),(0.08,-17),(0.085,-9),(0.09,-1),(0.096,7),(0.103,15),(0.111,22.5),(0.12,28.3),(0.131,32.7),(0.145,35.5),(0.16,37),(0.175,37.5),(0.186,37.3),
(0.195,34),(0.2,26),(0.201,18),(0.198,8),(0.192,-2),(0.184,-11),(0.174,-19),(0.161,-25),(0.145,-29.3),(0.12,-31.8),(0.098,-32.3),(0.08,-32),
(0.08,-24),(0.084,-16),(0.089,-8),(0.095,0),(0.101,8),(0.108,16),(0.116,23),(0.125,28.8),(0.136,33),(0.15,35.7),(0.165,37),(0.18,37.4),(0.19,37.1),
(0.2,34),(0.206,26),(0.207,18),(0.204,8),(0.198,-2),(0.19,-11),(0.18,-19),(0.167,-24.8),(0.15,-29),(0.125,-31.3),(0.1,-31.7),(0.082,-31.2),
(0.082,-23),(0.087,-15),(0.092,-7),(0.098,1),(0.105,9),(0.112,17),(0.12,23.5),(0.13,29.2),(0.141,33.3),(0.155,35.8),(0.17,37),(0.185,37.3),(0.195,37),
(0.205,34),(0.212,26),(0.213,18),(0.21,8),(0.204,-2),(0.196,-11),(0.186,-18.5),(0.173,-24.5),(0.156,-28.7),(0.13,-30.8),(0.105,-31),(0.083,-30.3),
(0.084,-22),(0.089,-14),(0.095,-6),(0.101,2),(0.108,10),(0.116,18),(0.124,24.5),(0.134,29.7),(0.146,33.6),(0.16,36),(0.175,37),(0.19,37.1),(0.2,36.8),
(0.21,34),(0.218,26),(0.219,18),(0.216,8),(0.21,-2),(0.202,-11),(0.192,-18.5),(0.179,-24.3),(0.162,-28.3),(0.135,-30.2),(0.11,-30.3),(0.085,-29.5),
(0.086,-21),(0.091,-13),(0.097,-5),(0.104,3),(0.111,11),(0.119,19),(0.128,25.5),(0.138,30.3),(0.15,33.8),(0.165,36),(0.18,36.9),(0.195,36.9),(0.207,36.5),
(0.216,34),(0.223,26),(0.224,18),(0.221,8),(0.215,-2),(0.207,-11),(0.197,-18),(0.184,-24),(0.167,-28),(0.14,-29.8),(0.115,-29.6),(0.09,-28.5),
(0.092,-20),(0.097,-12),(0.103,-4),(0.11,4),(0.118,12),(0.126,20),(0.135,26.3),(0.146,31),(0.158,34.2),(0.172,36.2),(0.188,37),(0.205,36.8),(0.218,35.8),(0.225,35),
(0.235,35.5),(0.24,33.2),(0.245,35.7),(0.27,35.9),(0.3,36),(0.35,36.2),(0.4,36.3),(0.402,33.5),(0.405,36.2),(0.44,36.3),(0.45,34),(0.455,36.2),(0.47,36.2),(0.475,33.5),(0.48,36.2),(0.5,36.2),(0.55,36.1),(0.6,36),(0.65,35.8),(0.7,35.5),(0.71,32.5),(0.715,35.4),(0.75,35.2),(0.76,33),(0.765,35.1),(0.78,35),(0.8,34.9),(0.815,34.8),
]
L_FEM = [
(0,0),(0.006,5),(0.014,12),(0.022,19),(0.032,25.5),(0.042,29.5),(0.053,32.3),(0.068,34.5),(0.085,35.9),(0.105,36.8),(0.125,37.3),(0.145,37.6),(0.165,37.8),(0.175,37.7),
(0.18,34),(0.182,27),(0.18,18),(0.175,8),(0.168,-2),(0.16,-11),(0.15,-19),(0.137,-25.5),(0.12,-30),(0.098,-32.2),(0.075,-31),(0.058,-28.5),
(0.06,-20),(0.064,-12),(0.069,-4),(0.075,4),(0.082,12),(0.09,19.5),(0.099,26),(0.11,31),(0.124,34.5),(0.14,36.5),(0.158,37.3),(0.172,37.4),
(0.178,34),(0.181,27),(0.181,18),(0.177,8),(0.171,-2),(0.164,-11),(0.155,-19),(0.143,-25.5),(0.127,-29.8),(0.105,-31.8),(0.08,-30.3),(0.062,-28),
(0.064,-19.5),(0.068,-11.5),(0.073,-3.5),(0.079,4.5),(0.086,12.5),(0.094,20),(0.103,26.4),(0.114,31.3),(0.128,34.7),(0.144,36.6),(0.162,37.3),(0.176,37.3),
(0.183,34),(0.186,27),(0.186,18),(0.183,8),(0.178,-2),(0.171,-11),(0.162,-19),(0.15,-25),(0.134,-29.4),(0.11,-31.3),(0.085,-29.8),(0.066,-27.5),
(0.068,-19),(0.072,-11),(0.077,-3),(0.083,5),(0.09,13),(0.098,20.5),(0.107,26.8),(0.118,31.6),(0.132,34.9),(0.148,36.6),(0.166,37.2),(0.18,37.1),
(0.188,34),(0.191,27),(0.192,18),(0.189,8),(0.184,-2),(0.177,-11),(0.168,-18.5),(0.156,-24.5),(0.14,-29),(0.115,-30.8),(0.09,-29.3),(0.07,-27),
(0.072,-18.5),(0.076,-10.5),(0.081,-2.5),(0.087,5.5),(0.094,13.5),(0.102,21),(0.111,27.2),(0.122,31.9),(0.136,35),(0.152,36.6),(0.17,37.1),(0.184,36.9),
(0.193,34),(0.197,27),(0.198,18),(0.195,8),(0.19,-2),(0.183,-11),(0.174,-18.5),(0.162,-24.3),(0.146,-28.5),(0.12,-30.3),(0.095,-28.8),(0.074,-26.5),
(0.076,-18),(0.08,-10),(0.085,-2),(0.091,6),(0.098,14),(0.106,21.5),(0.115,27.6),(0.126,32.2),(0.14,35.2),(0.156,36.6),(0.174,37),(0.189,36.7),
(0.198,34),(0.203,27),(0.204,18),(0.201,8),(0.196,-2),(0.189,-11),(0.18,-18.3),(0.168,-24),(0.152,-28),(0.125,-29.8),(0.1,-28.3),(0.078,-26),
(0.08,-17.5),(0.084,-9.5),(0.089,-1.5),(0.095,6.5),(0.102,14.5),(0.11,22),(0.119,28),(0.13,32.5),(0.144,35.3),(0.16,36.6),(0.178,36.9),(0.194,36.5),
(0.204,34),(0.209,27),(0.21,18),(0.207,8),(0.202,-2),(0.195,-11),(0.186,-18),(0.174,-23.6),(0.158,-27.5),(0.13,-29.3),(0.105,-27.8),(0.082,-25.5),
(0.084,-17),(0.088,-9),(0.093,-1),(0.099,7),(0.106,15),(0.114,22.5),(0.123,28.4),(0.134,32.8),(0.148,35.5),(0.164,36.6),(0.182,36.8),(0.2,36.3),(0.215,35.3),(0.225,35),
(0.25,35.5),(0.3,35.8),(0.35,36),(0.4,36),(0.45,35.9),(0.5,35.7),(0.55,35.5),(0.6,35.2),(0.65,34.9),(0.7,34.5),(0.75,34),(0.78,33.6),(0.8,33.2),(0.81,32.5),(0.815,31.5),
]

PANELS = [
    dict(cap="(g)", label="24CT1", fem=G_FEM, exp=G_EXP, xmax=0.5, xstep=0.1, ylo=-50, yhi=50, color="#34c248", dash=[5, 4], fem_top=True),
    dict(cap="(h)", label="33CT2", fem=H_FEM, exp=H_EXP, xmax=1.6, xstep=0.2, ylo=-50, yhi=50, color="#34c248", dash=[5, 4], fem_top=True),
    dict(cap="(i)", label="33GT1", fem=I_FEM, exp=I_EXP, xmax=0.4, xstep=0.1, ylo=-30, yhi=30, color="#25c0e6", dash=[5, 4], fem_top=True),
    dict(cap="(j)", label="24GT2", fem=J_FEM, exp=J_EXP, xmax=0.8, xstep=0.2, ylo=-30, yhi=30, color="#25c0e6", dash=[5, 4], fem_top=True),
    dict(cap="(k)", label="22RT1", fem=K_FEM, exp=K_EXP, xmax=0.5, xstep=0.1, ylo=-60, yhi=60, color="#1a7c8c", dash=[5, 4], fem_top=True),
    dict(cap="(l)", label="44RT2", fem=L_FEM, exp=L_EXP, xmax=1.0, xstep=0.2, ylo=-40, yhi=40, color="#1a7c8c", dash=[1, 0], fem_top=False),
]

W, H = 332, 267


def make_axis(title, lo, hi, step, fmt):
    half = step / 2
    n = int(round((hi - lo) / half))
    vals = [round(lo + i * half, 4) for i in range(n + 1)]
    minor = f"abs(datum.value/{step} - round(datum.value/{step})) > 0.001"
    ends = f"datum.value <= {lo} + 0.0001 || datum.value >= {hi} - 0.0001"
    lab = (f"{minor} ? '' : (datum.value < 0 ? '-' + format(-datum.value, '{fmt}') "
           f": format(datum.value, '{fmt}'))")
    return alt.Axis(
        title=title, values=vals, labelExpr=lab, labelOverlap=False, labelFlush=False,
        tickSize={"condition": {"test": minor, "value": 3}, "value": 5},
        grid=True, gridColor="#e0e0e0", gridDash=[2, 2], gridWidth=0.8,
        gridOpacity={"condition": {"test": ends, "value": 0}, "value": 1},
        domainColor="#333333", tickColor="#333333", labelPadding=2,
        labelFont=FONT, labelFontSize=18, labelColor="black",
        titleFont=FONT, titleFontSize=18, titleFontWeight="normal", titleColor="black",
    )


def panel(p):
    def frame(pts, name):
        df = pd.DataFrame(pts, columns=["x", "y"])
        df["series"] = name
        df["i"] = range(len(df))
        return df

    leg = alt.Legend(title=None, orient="bottom-right", offset=0, padding=4,
                     fillColor="white", strokeColor="#9a9a9a", symbolType="M-1,0H5",
                     symbolSize=144, symbolStrokeWidth=1.6, labelFont=FONT,
                     labelFontSize=18, labelColor="black", labelOffset=28, rowPadding=2)
    color = alt.Color("series:N", scale=alt.Scale(domain=["FEM", "EXP"], range=["#222222", p["color"]]), legend=leg)
    dash = alt.StrokeDash("series:N", scale=alt.Scale(domain=["FEM", "EXP"], range=[p["dash"], [1, 0]]), legend=leg)
    x = alt.X("x:Q", scale=alt.Scale(domain=[0, p["xmax"]], nice=False, zero=False),
              axis=make_axis("Notch Elongation (mm)", 0, p["xmax"], p["xstep"], ".1f"))
    y = alt.Y("y:Q", scale=alt.Scale(domain=[p["ylo"], p["yhi"]], nice=False, zero=False),
              axis=make_axis("Load (kN)", p["ylo"], p["yhi"], 10, "d"))

    fem = alt.Chart(frame(p["fem"], "FEM")).mark_line(strokeWidth=1.2, clip=True).encode(
        x=x, y=y, color=color, strokeDash=dash, order="i:Q")
    exp = alt.Chart(frame(p["exp"], "EXP")).mark_line(strokeWidth=1.2, clip=True).encode(
        x=x, y=y, color=color, strokeDash=dash, order="i:Q")
    lab_df = pd.DataFrame({"label": [p["label"]]})
    box = alt.Chart(lab_df).mark_rect(fill="#f7d9ab", stroke="#a89a80", strokeWidth=0.8).encode(
        x=alt.value(W - 57), x2=alt.value(W - 1), y=alt.value(H - 72), y2=alt.value(H - 48))
    txt = alt.Chart(lab_df).mark_text(font=FONT, fontWeight="bold", fontSize=17, color="black",
                                      align="center", baseline="middle").encode(
        x=alt.value(W - 29), y=alt.value(H - 59), text="label:N")
    layers = [exp, fem] if p["fem_top"] else [fem, exp]
    return alt.layer(*layers, box, txt).properties(
        width=W, height=H,
        title=alt.TitleParams(p["cap"], orient="bottom", offset=26, anchor="middle", frame="bounds",
                              font=FONT, fontSize=17, fontWeight="normal", color="black"))


rows = []
for k in range(3):
    rows.append(alt.hconcat(panel(PANELS[2 * k]), panel(PANELS[2 * k + 1]), spacing=14)
                .resolve_scale(color="independent", strokeDash="independent"))

chart = alt.vconcat(*rows, spacing=37).resolve_scale(
    color="independent", strokeDash="independent"
).properties(
    padding={"left": 25, "top": 0, "right": 0, "bottom": 0}
).configure_view(
    stroke="#555555", strokeWidth=1
)

chart.save("out.html", embed_options={"renderer": "svg", "actions": False})
